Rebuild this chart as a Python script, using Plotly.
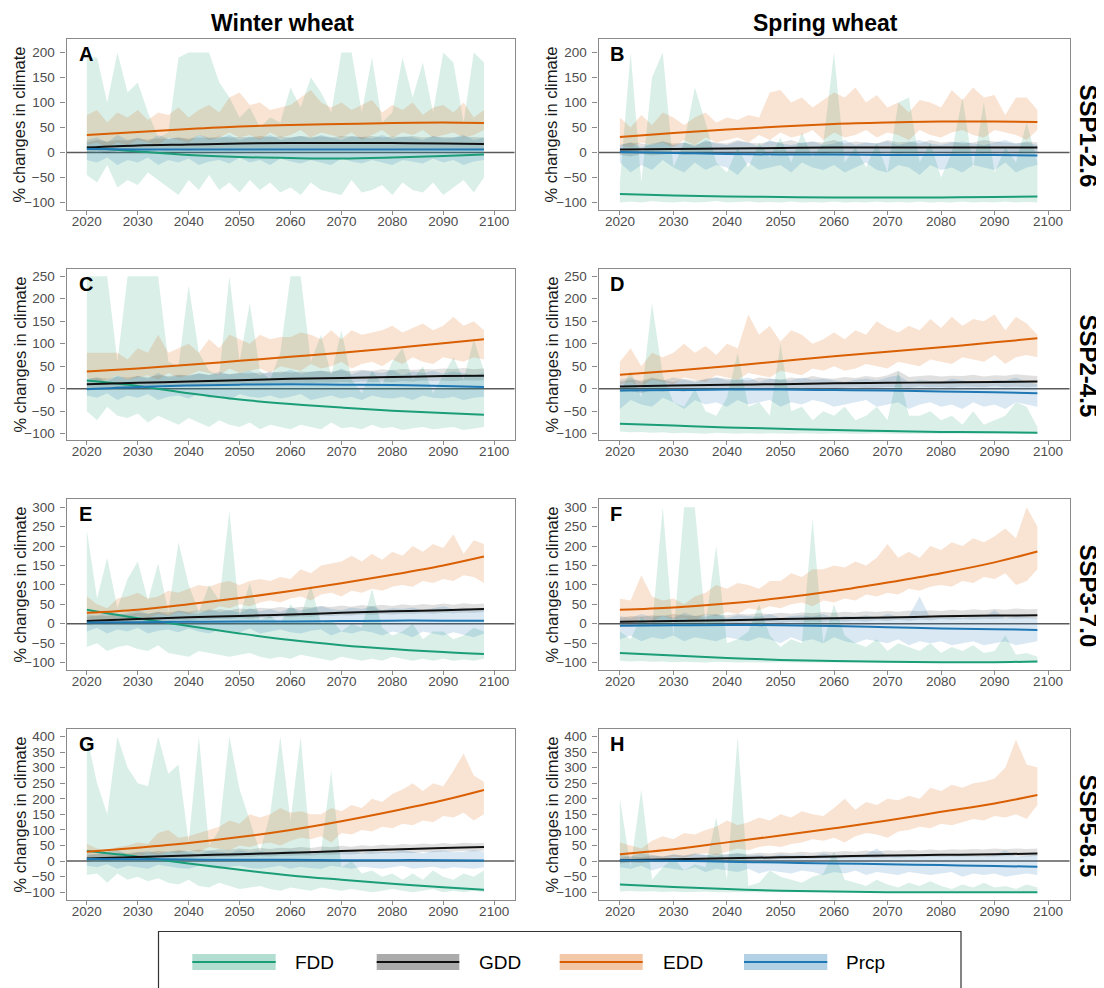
import plotly.graph_objects as go

# ---------------- data ----------------
YEARS = list(range(2020, 2099, 2))            # band sampling years
TREND_YEARS = [2020, 2030, 2040, 2050, 2060, 2070, 2080, 2090, 2098]
X_TICKS = [2020, 2030, 2040, 2050, 2060, 2070, 2080, 2090, 2100]
SERIES = ["FDD", "GDD", "EDD", "Prcp"]
PANEL_LETTERS = ["A", "B", "C", "D", "E", "F", "G", "H"]
COLUMN_TITLES = ["Winter wheat", "Spring wheat"]
ROW_LABELS = ["SSP1-2.6", "SSP2-4.5", "SSP3-7.0", "SSP5-8.5"]
Y_TICKS = [
    [-100, -50, 0, 50, 100, 150, 200],
    [-100, -50, 0, 50, 100, 150, 200, 250],
    [-100, -50, 0, 50, 100, 150, 200, 250, 300],
    [-100, -50, 0, 50, 100, 150, 200, 250, 300, 350, 400],
]

# ---- Panel A: winter wheat, SSP1-2.6
A_FDD_LO = [-45, -60, -25, -70, -55, -65, -40, -55, -70, -85, -55, -75, -45, -75, -60, -80, -55, -75, -60, -80, -70, -85, -60, -75, -80, -85, -55, -80, -75, -65, -85, -60, -75, -80, -60, -85, -70, -55, -80, -50]
A_FDD_HI = [190, 190, 100, 200, 120, 140, 80, 30, 40, 190, 200, 200, 200, 140, 110, 70, 90, 50, 70, 60, 130, 90, 150, 120, 80, 200, 200, 80, 190, 60, 80, 190, 110, 180, 80, 200, 180, 60, 200, 180]
A_GDD_LO = [0, 2, -2, 3, 2, 4, 3, 5, 4, 5, 3, 6, 5, 6, 4, 6, 5, 7, 5, 6, 5, 7, 6, 6, 5, 7, 6, 5, 7, 6, 5, 7, 6, 5, 6, 7, 5, 6, 5, 6]
A_GDD_HI = [20, 25, 22, 25, 24, 28, 26, 28, 27, 30, 28, 30, 29, 32, 30, 31, 30, 33, 31, 32, 30, 33, 31, 32, 30, 33, 32, 31, 33, 30, 32, 31, 33, 30, 32, 31, 30, 32, 31, 30]
A_EDD_LO = [15, 20, 10, 20, 15, 25, 20, 15, 30, 25, 20, 35, 25, 30, 40, 30, 35, 25, 40, 30, 35, 45, 30, 40, 35, 30, 40, 25, 35, 45, 30, 40, 35, 45, 30, 35, 40, 30, 35, 45]
A_EDD_HI = [75, 85, 60, 80, 70, 85, 65, 80, 75, 90, 70, 85, 95, 80, 110, 120, 95, 100, 85, 90, 95, 110, 125, 100, 90, 100, 85, 95, 105, 80, 95, 85, 100, 75, 90, 95, 80, 100, 70, 85]
A_PRCP_LO = [-15, -20, -10, -25, -15, -20, -10, -25, -15, -20, -12, -25, -18, -15, -22, -10, -20, -15, -25, -12, -18, -22, -15, -20, -25, -12, -18, -22, -15, -20, -25, -15, -18, -22, -12, -20, -15, -25, -18, -15]
A_PRCP_HI = [25, 30, 20, 35, 25, 30, 22, 35, 28, 30, 25, 35, 30, 28, 35, 25, 32, 28, 35, 25, 30, 33, 28, 35, 30, 25, 33, 30, 28, 35, 27, 32, 30, 25, 33, 28, 30, 35, 25, 30]
A_FDD_TREND = [10, 2, -5, -9, -11, -12, -10, -7, -4]
A_GDD_TREND = [10, 14, 16, 18, 19, 19, 19, 18, 17]
A_EDD_TREND = [35, 41, 47, 52, 55, 57, 59, 60, 59]
A_PRCP_TREND = [7, 6, 6, 6, 6, 6, 6, 6, 6]

# ---- Panel B: spring wheat, SSP1-2.6
B_FDD_LO = [-100, -98, -100, -97, -99, -100, -98, -100, -99, -97, -100, -99, -98, -100, -99, -100, -98, -100, -99, -100, -98, -100, -99, -100, -98, -100, -99, -100, -98, -100, -99, -100, -98, -100, -99, -100, -98, -100, -99, -100]
B_FDD_HI = [-60, 200, -60, 150, 200, -30, 20, 130, 60, -20, -40, 10, -30, 20, -10, 30, -20, 40, -10, 20, 200, -20, 10, -30, 20, -40, 100, 110, -20, 20, -50, 0, 110, -30, 100, -40, 10, -20, 60, -20]
B_GDD_LO = [-5, -8, -3, -6, -4, -2, -5, -3, -1, -4, -2, 0, -3, -1, -2, 0, -3, -1, 0, -2, 1, -1, -2, 0, -1, 1, -2, 0, -1, 1, 0, -2, 0, 1, -1, 0, 1, -1, 0, 1]
B_GDD_HI = [15, 20, 18, 15, 22, 18, 20, 15, 22, 20, 18, 25, 20, 18, 22, 20, 25, 18, 22, 20, 25, 18, 22, 20, 18, 25, 20, 22, 18, 25, 20, 22, 18, 20, 25, 22, 20, 18, 22, 20]
B_EDD_LO = [15, 10, 20, 15, 20, 10, 25, 15, 30, 20, 25, 30, 20, 35, 25, 40, 30, 35, 45, 25, 40, 30, 35, 45, 30, 40, 35, 25, 45, 35, 30, 40, 45, 35, 30, 45, 40, 35, 25, 45]
B_EDD_HI = [70, 50, 75, 55, 80, 70, 55, 70, 80, 60, 70, 65, 75, 70, 120, 125, 100, 110, 90, 105, 120, 110, 130, 100, 115, 90, 100, 80, 105, 100, 90, 125, 105, 130, 110, 115, 75, 110, 110, 85]
B_PRCP_LO = [-20, -40, -25, -35, -15, -30, -40, -20, -35, -25, -30, -45, -20, -35, -30, -25, -40, -20, -30, -35, -25, -40, -30, -20, -35, -40, -25, -30, -45, -25, -35, -30, -40, -25, -30, -35, -20, -40, -30, -25]
B_PRCP_HI = [15, 20, 10, 18, 22, 15, 20, 12, 25, 18, 15, 22, 20, 12, 25, 18, 15, 20, 22, 15, 18, 25, 15, 20, 18, 22, 15, 20, 25, 18, 15, 20, 22, 18, 15, 20, 25, 18, 20, 15]
B_FDD_TREND = [-83, -86, -88, -89, -90, -90, -90, -89, -88]
B_GDD_TREND = [6, 7, 8, 9, 10, 10, 10, 10, 10]
B_EDD_TREND = [31, 39, 46, 52, 57, 60, 62, 62, 61]
B_PRCP_TREND = [1, -1, -3, -4, -4, -5, -5, -5, -6]

# ---- Panel C: winter wheat, SSP2-4.5
C_FDD_LO = [-50, -70, -40, -60, -65, -55, -75, -60, -70, -80, -65, -75, -85, -70, -80, -85, -75, -90, -80, -85, -90, -80, -85, -90, -75, -88, -85, -90, -80, -88, -85, -92, -88, -85, -90, -88, -85, -92, -88, -85]
C_FDD_HI = [250, 250, 250, 60, 250, 250, 250, 250, 60, 50, 230, 80, 40, 30, 250, 60, 190, 40, 20, 80, 250, 250, 60, 120, 30, 130, 20, -10, 40, 10, 60, 90, 20, 50, -10, 30, 70, 20, 110, 40]
C_GDD_LO = [0, 2, 1, 4, 3, 5, 4, 6, 5, 7, 6, 8, 7, 9, 8, 10, 9, 11, 10, 12, 11, 13, 12, 14, 13, 15, 14, 16, 15, 16, 15, 17, 16, 18, 17, 18, 17, 19, 18, 19]
C_GDD_HI = [22, 25, 22, 27, 25, 28, 26, 30, 28, 31, 30, 33, 31, 34, 32, 35, 34, 36, 35, 38, 36, 38, 37, 40, 38, 41, 39, 42, 40, 43, 41, 44, 42, 44, 43, 45, 44, 46, 43, 45]
C_EDD_LO = [25, 15, 20, 30, 20, 25, 30, 20, 35, 25, 30, 40, 35, 30, 45, 35, 40, 45, 35, 50, 45, 40, 55, 45, 50, 60, 45, 55, 60, 50, 65, 55, 70, 60, 55, 70, 65, 60, 70, 65]
C_EDD_HI = [80, 80, 80, 80, 65, 90, 80, 120, 80, 90, 100, 80, 110, 90, 120, 110, 100, 120, 110, 115, 115, 125, 120, 110, 130, 110, 130, 120, 125, 130, 140, 125, 135, 145, 130, 140, 160, 140, 150, 130]
C_PRCP_LO = [-15, -20, -10, -25, -15, -20, -12, -25, -18, -15, -22, -10, -20, -15, -25, -12, -18, -20, -15, -22, -18, -12, -25, -20, -15, -22, -18, -25, -15, -20, -22, -18, -25, -15, -20, -22, -18, -25, -20, -18]
C_PRCP_HI = [20, 25, 15, 30, 20, 28, 22, 35, 25, 30, 28, 35, 30, 38, 32, 35, 40, 30, 38, 35, 42, 33, 38, 40, 35, 45, 32, 40, 38, 35, 42, 30, 38, 35, 40, 33, 38, 35, 30, 35]
C_FDD_TREND = [18, 6, -10, -24, -34, -42, -49, -54, -58]
C_GDD_TREND = [10, 13, 16, 19, 22, 24, 26, 28, 29]
C_EDD_TREND = [38, 45, 53, 62, 71, 80, 90, 101, 110]
C_PRCP_TREND = [-1, 4, 7, 9, 10, 9, 8, 6, 4]

# ---- Panel D: spring wheat, SSP2-4.5
D_FDD_LO = [-95, -97, -96, -98, -97, -99, -98, -99, -100, -98, -99, -100, -99, -100, -99, -100, -100, -99, -100, -100, -99, -100, -100, -100, -99, -100, -100, -100, -100, -100, -100, -100, -100, -100, -100, -100, -100, -100, -100, -100]
D_FDD_HI = [-10, 40, -20, 190, 30, -30, -40, 0, -50, -60, -20, 80, -40, -30, -60, 100, -50, -40, -70, -50, -60, -40, -70, -60, -40, -70, 40, -60, -60, -50, -70, -60, -80, -50, -80, -70, -60, -30, -40, -85]
D_GDD_LO = [-8, -5, -10, -3, -6, -4, -7, -2, -5, -3, -1, -4, -2, 0, -3, 1, -1, 2, 0, 1, -1, 2, 3, 1, 2, 4, 3, 2, 5, 3, 4, 2, 5, 4, 3, 6, 4, 5, 3, 5]
D_GDD_HI = [15, 20, 18, 25, 20, 15, 22, 18, 20, 25, 22, 20, 18, 25, 22, 20, 25, 22, 28, 24, 22, 26, 24, 28, 25, 30, 40, 26, 28, 30, 27, 29, 28, 31, 27, 30, 29, 32, 30, 28]
D_EDD_LO = [10, 15, 5, 20, 15, 10, 25, 20, 15, 30, 25, 20, 35, 30, 25, 40, 35, 30, 45, 40, 50, 40, 45, 55, 50, 45, 60, 55, 50, 65, 60, 55, 70, 65, 60, 75, 55, 70, 75, 70]
D_EDD_HI = [60, 90, 50, 80, 70, 80, 100, 80, 95, 75, 100, 90, 165, 120, 140, 105, 130, 120, 100, 110, 125, 110, 130, 120, 150, 135, 125, 140, 130, 155, 135, 160, 140, 155, 150, 165, 130, 160, 145, 120]
D_PRCP_LO = [-45, -25, -35, -40, -20, -30, -45, -25, -35, -30, -40, -25, -35, -30, -25, -40, -30, -35, -25, -30, -40, -35, -30, -25, -40, -35, -30, -45, -35, -30, -40, -35, -45, -30, -40, -35, -45, -30, -35, -40]
D_PRCP_HI = [20, 25, 15, 22, 18, 25, 20, 15, 22, 25, 18, 20, 25, 15, 22, 20, 18, 25, 20, 22, 18, 15, 20, 22, 18, 25, 30, 15, 20, 18, 15, 22, 18, 15, 12, 20, 18, 25, 15, 10]
D_FDD_TREND = [-78, -82, -86, -89, -92, -94, -96, -97, -98]
D_GDD_TREND = [5, 7, 9, 10, 12, 13, 14, 15, 16]
D_EDD_TREND = [31, 40, 50, 61, 72, 82, 92, 103, 112]
D_PRCP_TREND = [-4, -3, -2, -2, -3, -4, -6, -8, -10]

# ---- Panel E: winter wheat, SSP3-7.0
E_FDD_LO = [-60, -50, -70, -60, -55, -65, -70, -55, -75, -80, -85, -70, -75, -80, -85, -80, -75, -85, -90, -85, -90, -80, -85, -90, -95, -85, -90, -95, -90, -95, -85, -90, -95, -90, -95, -90, -95, -92, -95, -90]
E_FDD_HI = [240, 65, 170, 40, 115, 160, 60, 155, 30, 210, 100, 30, 100, 60, 290, 20, 105, 10, 20, 0, 50, 20, 100, 0, 10, -20, 0, -10, 90, -10, -30, -20, 0, -40, -20, -20, -40, -30, -10, -20]
E_GDD_LO = [-3, 0, -1, 3, 2, 5, 4, 7, 6, 9, 8, 11, 10, 13, 12, 14, 13, 16, 15, 18, 17, 19, 18, 21, 20, 22, 21, 24, 23, 25, 24, 26, 25, 27, 26, 28, 27, 29, 28, 30]
E_GDD_HI = [18, 22, 20, 25, 24, 28, 26, 31, 29, 33, 31, 35, 33, 37, 35, 39, 37, 41, 39, 43, 40, 44, 42, 46, 43, 47, 44, 48, 45, 49, 46, 50, 47, 51, 48, 52, 49, 53, 50, 52]
E_EDD_LO = [5, 10, 0, 15, 10, 20, 15, 25, 20, 30, 25, 35, 30, 45, 40, 50, 45, 55, 60, 55, 65, 70, 60, 75, 80, 70, 85, 80, 90, 85, 95, 100, 95, 110, 105, 115, 110, 125, 120, 105]
E_EDD_HI = [70, 50, 40, 65, 70, 80, 65, 70, 85, 80, 90, 100, 95, 105, 110, 100, 110, 115, 110, 120, 115, 140, 130, 150, 155, 160, 175, 160, 180, 165, 185, 175, 200, 185, 205, 195, 230, 180, 215, 205]
E_PRCP_LO = [-20, -10, -25, -15, -20, -10, -25, -18, -15, -22, -12, -20, -25, -15, -18, -22, -12, -25, -20, -15, -22, -25, -18, -15, -30, -20, -25, -18, -22, -30, -20, -25, -35, -20, -25, -30, -22, -28, -35, -25]
E_PRCP_HI = [25, 20, 30, 22, 28, 35, 25, 30, 22, 35, 28, 25, 38, 30, 35, 28, 40, 32, 38, 30, 42, 35, 40, 45, 38, 35, 42, 38, 45, 35, 40, 38, 42, 35, 40, 45, 38, 42, 35, 38]
E_FDD_TREND = [36, 14, -6, -25, -42, -55, -65, -73, -78]
E_GDD_TREND = [7, 12, 17, 20, 24, 28, 32, 35, 38]
E_EDD_TREND = [28, 36, 50, 66, 84, 104, 126, 150, 173]
E_PRCP_TREND = [3, 4, 5, 6, 6, 7, 8, 8, 8]

# ---- Panel F: spring wheat, SSP3-7.0
F_FDD_LO = [-95, -97, -96, -98, -97, -99, -98, -99, -100, -98, -99, -100, -99, -100, -100, -99, -100, -100, -100, -100, -100, -100, -100, -100, -100, -100, -100, -100, -100, -100, -100, -100, -100, -100, -100, -100, -100, -100, -100, -100]
F_FDD_HI = [-20, -40, 20, -10, 300, -30, 300, 300, 0, 200, -50, -40, -20, 50, -30, -60, -40, -50, 270, -50, 50, -30, -50, -60, -40, -70, -50, -60, -70, -50, -75, -60, -70, -55, -75, -70, -30, -80, -75, -85]
F_GDD_LO = [-5, -8, -3, -6, -2, -4, 0, -3, 1, -1, 2, 0, 3, 1, 4, 2, 5, 3, 6, 4, 7, 5, 8, 6, 9, 7, 10, 8, 11, 9, 12, 10, 12, 11, 13, 12, 14, 13, 14, 13]
F_GDD_HI = [15, 20, 18, 22, 20, 25, 22, 20, 25, 23, 22, 26, 24, 27, 25, 28, 26, 29, 27, 30, 28, 31, 29, 32, 30, 33, 31, 34, 32, 35, 33, 36, 34, 37, 35, 38, 36, 39, 37, 38]
F_EDD_LO = [10, 0, 15, 5, 20, 10, 15, 5, 25, 20, 30, 25, 40, 35, 45, 40, 50, 55, 45, 60, 55, 65, 60, 75, 70, 80, 75, 90, 85, 95, 100, 95, 110, 105, 120, 115, 130, 100, 110, 140]
F_EDD_HI = [65, 60, 125, 70, 60, 65, 50, 70, 80, 100, 90, 105, 100, 90, 110, 110, 130, 120, 140, 140, 150, 145, 160, 150, 170, 205, 170, 185, 170, 200, 190, 210, 200, 220, 210, 225, 245, 220, 300, 250]
F_PRCP_LO = [-40, -30, -45, -35, -40, -30, -45, -35, -40, -45, -35, -40, -45, -35, -40, -50, -35, -45, -40, -50, -35, -45, -50, -40, -45, -50, -40, -55, -45, -50, -45, -55, -50, -45, -55, -50, -45, -55, -50, -45]
F_PRCP_HI = [20, 15, 25, 18, 22, 15, 28, 20, 18, 25, 15, 22, 20, 18, 25, 15, 20, 22, 18, 25, 15, 20, 18, 22, 15, 25, 18, 20, 70, 15, 18, 22, 15, 20, 18, 35, 15, 20, 18, 15]
F_FDD_TREND = [-75, -82, -88, -93, -96, -98, -99, -99, -97]
F_GDD_TREND = [5, 7, 9, 12, 14, 16, 19, 21, 22]
F_EDD_TREND = [36, 42, 52, 66, 84, 106, 130, 158, 186]
F_PRCP_TREND = [-5, -4, -3, -4, -6, -9, -12, -14, -16]

# ---- Panel G: winter wheat, SSP5-8.5
G_FDD_LO = [-45, -40, -70, -40, -60, -50, -65, -55, -70, -75, -60, -80, -85, -70, -80, -90, -85, -80, -90, -95, -85, -90, -95, -85, -90, -95, -90, -95, -100, -95, -90, -95, -100, -95, -90, -100, -95, -100, -95, -100]
G_FDD_HI = [400, 250, 150, 400, 300, 250, 240, 400, 280, 310, 60, 400, 50, 100, 400, 230, 130, 30, 150, 400, 130, 400, 20, 30, 290, -20, 0, -40, -30, -50, -40, -60, -40, -60, -30, -50, -60, -40, -50, -30]
G_GDD_LO = [-2, 2, 0, 4, 3, 6, 5, 8, 7, 10, 9, 12, 11, 13, 12, 15, 14, 16, 15, 18, 17, 19, 18, 21, 20, 22, 21, 24, 23, 26, 25, 27, 26, 29, 28, 31, 30, 32, 31, 33]
G_GDD_HI = [18, 24, 21, 27, 25, 30, 27, 33, 30, 34, 32, 37, 34, 38, 36, 40, 37, 42, 39, 43, 41, 45, 42, 47, 44, 49, 46, 51, 48, 53, 50, 55, 52, 56, 54, 58, 55, 59, 57, 58]
G_EDD_LO = [10, 15, 5, 10, 20, 15, 25, 20, 30, 25, 35, 30, 45, 40, 35, 50, 45, 55, 60, 50, 65, 75, 70, 80, 60, 90, 85, 100, 95, 110, 105, 120, 115, 130, 125, 145, 140, 155, 130, 150]
G_EDD_HI = [55, 40, 30, 45, 50, 60, 55, 90, 100, 75, 80, 90, 100, 110, 130, 120, 150, 140, 150, 170, 155, 160, 150, 150, 170, 160, 180, 170, 200, 190, 215, 230, 250, 225, 250, 240, 290, 345, 275, 255]
G_PRCP_LO = [-15, -20, -10, -25, -15, -20, -25, -12, -18, -22, -25, -15, -20, -25, -18, -15, -22, -25, -20, -15, -25, -18, -22, -25, -15, -20, -25, -18, -22, -25, -20, -15, -25, -22, -18, -25, -20, -22, -25, -20]
G_PRCP_HI = [25, 20, 30, 35, 22, 28, 32, 25, 30, 35, 28, 22, 33, 30, 25, 35, 28, 32, 25, 30, 35, 28, 32, 25, 30, 28, 35, 25, 32, 30, 28, 35, 30, 25, 32, 35, 28, 30, 35, 30]
G_FDD_TREND = [32, 14, -8, -28, -46, -60, -73, -84, -92]
G_GDD_TREND = [8, 13, 18, 22, 27, 32, 37, 42, 45]
G_EDD_TREND = [30, 43, 58, 77, 100, 128, 160, 195, 228]
G_PRCP_TREND = [7, 6, 5, 4, 4, 3, 3, 3, 2]

# ---- Panel H: spring wheat, SSP5-8.5
H_FDD_LO = [-98, -96, -98, -97, -99, -98, -100, -99, -98, -100, -99, -100, -100, -99, -100, -100, -100, -100, -100, -100, -100, -100, -100, -100, -100, -100, -100, -100, -100, -100, -100, -100, -100, -100, -100, -100, -100, -100, -100, -100]
H_FDD_HI = [200, -20, 230, -60, -20, 10, -30, -10, -20, 140, -60, 400, -80, -70, -30, -50, -60, -70, -50, -40, 30, -60, -70, -80, -60, -75, -85, -70, -80, -65, -80, -90, -75, -85, -70, -85, -80, -90, -75, -85]
H_GDD_LO = [-8, -5, -6, -3, -4, -1, -2, 1, 0, 2, 1, 4, 3, 5, 4, 7, 6, 8, 7, 9, 8, 10, 9, 11, 10, 12, 11, 13, 12, 14, 13, 14, 13, 15, 14, 15, 14, 16, 15, 16]
H_GDD_HI = [10, 15, 12, 18, 15, 20, 17, 22, 19, 24, 21, 25, 23, 27, 24, 28, 26, 30, 27, 31, 29, 32, 30, 34, 31, 35, 33, 36, 34, 37, 35, 38, 36, 39, 37, 40, 38, 40, 39, 40]
H_EDD_LO = [0, 5, -5, 10, 5, 15, 10, 20, 25, 20, 30, 40, 35, 45, 50, 45, 55, 60, 70, 65, 75, 60, 80, 90, 85, 75, 95, 100, 110, 105, 120, 115, 125, 135, 130, 145, 140, 150, 135, 180]
H_EDD_HI = [60, 50, 40, 65, 80, 70, 90, 85, 100, 110, 130, 115, 125, 140, 130, 150, 140, 160, 150, 145, 170, 200, 165, 190, 180, 200, 195, 210, 200, 235, 225, 245, 235, 250, 255, 265, 300, 390, 310, 300]
H_PRCP_LO = [-20, -25, -15, -30, -20, -25, -30, -20, -35, -25, -30, -35, -25, -40, -30, -35, -40, -30, -35, -45, -35, -40, -30, -45, -35, -40, -45, -35, -40, -45, -40, -35, -50, -40, -45, -40, -50, -45, -40, -45]
H_PRCP_HI = [20, 15, 25, 20, 15, 22, 18, 25, 20, 15, 22, 25, 18, 20, 15, 22, 18, 20, 15, 25, 18, 20, 15, 22, 40, 15, 20, 18, 15, 22, 18, 15, 20, 18, 15, 20, 35, 15, 18, 20]
H_FDD_TREND = [-75, -83, -90, -95, -98, -100, -100, -100, -100]
H_GDD_TREND = [3, 6, 9, 12, 15, 18, 20, 22, 24]
H_EDD_TREND = [22, 38, 60, 82, 105, 130, 158, 185, 212]
H_PRCP_TREND = [3, 1, -2, -5, -8, -10, -13, -16, -18]

PANELS = [
    {"FDD": (A_FDD_LO, A_FDD_HI, A_FDD_TREND), "GDD": (A_GDD_LO, A_GDD_HI, A_GDD_TREND),
     "EDD": (A_EDD_LO, A_EDD_HI, A_EDD_TREND), "Prcp": (A_PRCP_LO, A_PRCP_HI, A_PRCP_TREND)},
    {"FDD": (B_FDD_LO, B_FDD_HI, B_FDD_TREND), "GDD": (B_GDD_LO, B_GDD_HI, B_GDD_TREND),
     "EDD": (B_EDD_LO, B_EDD_HI, B_EDD_TREND), "Prcp": (B_PRCP_LO, B_PRCP_HI, B_PRCP_TREND)},
    {"FDD": (C_FDD_LO, C_FDD_HI, C_FDD_TREND), "GDD": (C_GDD_LO, C_GDD_HI, C_GDD_TREND),
     "EDD": (C_EDD_LO, C_EDD_HI, C_EDD_TREND), "Prcp": (C_PRCP_LO, C_PRCP_HI, C_PRCP_TREND)},
    {"FDD": (D_FDD_LO, D_FDD_HI, D_FDD_TREND), "GDD": (D_GDD_LO, D_GDD_HI, D_GDD_TREND),
     "EDD": (D_EDD_LO, D_EDD_HI, D_EDD_TREND), "Prcp": (D_PRCP_LO, D_PRCP_HI, D_PRCP_TREND)},
    {"FDD": (E_FDD_LO, E_FDD_HI, E_FDD_TREND), "GDD": (E_GDD_LO, E_GDD_HI, E_GDD_TREND),
     "EDD": (E_EDD_LO, E_EDD_HI, E_EDD_TREND), "Prcp": (E_PRCP_LO, E_PRCP_HI, E_PRCP_TREND)},
    {"FDD": (F_FDD_LO, F_FDD_HI, F_FDD_TREND), "GDD": (F_GDD_LO, F_GDD_HI, F_GDD_TREND),
     "EDD": (F_EDD_LO, F_EDD_HI, F_EDD_TREND), "Prcp": (F_PRCP_LO, F_PRCP_HI, F_PRCP_TREND)},
    {"FDD": (G_FDD_LO, G_FDD_HI, G_FDD_TREND), "GDD": (G_GDD_LO, G_GDD_HI, G_GDD_TREND),
     "EDD": (G_EDD_LO, G_EDD_HI, G_EDD_TREND), "Prcp": (G_PRCP_LO, G_PRCP_HI, G_PRCP_TREND)},
    {"FDD": (H_FDD_LO, H_FDD_HI, H_FDD_TREND), "GDD": (H_GDD_LO, H_GDD_HI, H_GDD_TREND),
     "EDD": (H_EDD_LO, H_EDD_HI, H_EDD_TREND), "Prcp": (H_PRCP_LO, H_PRCP_HI, H_PRCP_TREND)},
]

# ---------------- styling / layout ----------------
W, H = 1104, 988
FONT = "Liberation Sans, Arial, Helvetica, sans-serif"
LINE_COLORS = {"FDD": "#1B9E77", "GDD": "#111111", "EDD": "#D95F02", "Prcp": "#1F78B4"}
RGB = {"FDD": (27, 158, 119), "GDD": (0, 0, 0), "EDD": (217, 95, 2), "Prcp": (31, 120, 180)}
BAND_ALPHA = {"FDD": 0.17, "GDD": 0.12, "EDD": 0.17, "Prcp": 0.17}
KEY_ALPHA = {"FDD": 0.34, "GDD": 0.33, "EDD": 0.34, "Prcp": 0.34}
COL_X = [(58.5, 506.5), (590.5, 1061.5)]
ROW_TOP = [31, 261, 491, 721]
PANEL_H = 171
Y_RANGES = [(-115, 227), (-114, 266), (-119, 321), (-125, 424)]
AXIS_GREY = "#8a8a8a"
TICK_TEXT = "#4d4d4d"


def px(x):
    return x / W


def py(y):
    return 1 - y / H


def rgba(name, a):
    r, g, b = RGB[name]
    return f"rgba({r},{g},{b},{a})"


fig = go.Figure()
layout = {}
annotations = []
shapes = []

for p, panel in enumerate(PANELS):
    row, col = divmod(p, 2)
    idx = "" if p == 0 else str(p + 1)
    xa, ya = "x" + idx, "y" + idx
    x0, x1 = COL_X[col]
    top = ROW_TOP[row]
    bot = top + PANEL_H
    layout["xaxis" + idx] = dict(
        domain=[px(x0), px(x1)], anchor=ya, range=[2016, 2104],
        tickvals=X_TICKS, ticks="outside", ticklen=4, tickwidth=1, tickcolor=AXIS_GREY,
        showline=True, mirror=True, linecolor=AXIS_GREY, linewidth=1.2,
        showgrid=False, zeroline=False, ticklabelstandoff=-5,
        tickfont=dict(family=FONT, size=13.5, color=TICK_TEXT),
    )
    layout["yaxis" + idx] = dict(
        domain=[py(bot), py(top)], anchor=xa, range=list(Y_RANGES[row]),
        tickvals=Y_TICKS[row], ticks="outside", ticklen=5, tickwidth=1, tickcolor=AXIS_GREY,
        showline=True, mirror=True, linecolor=AXIS_GREY, linewidth=1.2,
        showgrid=False, zeroline=False, ticklabelstandoff=3,
        tickfont=dict(family=FONT, size=13.5, color=TICK_TEXT),
    )
    # zero reference line
    shapes.append(dict(type="line", xref=xa + " domain", yref=ya, x0=0, x1=1, y0=0, y1=0,
                       line=dict(color="#5a5a5a", width=1.5), layer="below"))
    # ribbons
    for s in SERIES:
        lo, hi, _ = panel[s]
        fig.add_trace(go.Scatter(x=YEARS, y=lo, xaxis=xa, yaxis=ya, mode="lines",
                                 line=dict(width=0, color=rgba(s, 0)), showlegend=False,
                                 hoverinfo="skip"))
        fig.add_trace(go.Scatter(x=YEARS, y=hi, xaxis=xa, yaxis=ya, mode="lines",
                                 line=dict(width=0, color=rgba(s, 0)), fill="tonexty",
                                 fillcolor=rgba(s, BAND_ALPHA[s]), showlegend=False,
                                 hoverinfo="skip"))
    # trend lines
    for s in SERIES:
        _, _, tr = panel[s]
        fig.add_trace(go.Scatter(x=TREND_YEARS, y=tr, xaxis=xa, yaxis=ya, mode="lines",
                                 line=dict(width=2, color=LINE_COLORS[s], shape="spline"),
                                 name=s, showlegend=False))
    # panel letter
    annotations.append(dict(text="<b>" + PANEL_LETTERS[p] + "</b>", xref="paper", yref="paper",
                            x=px(x0 + 10), y=py(top + 15), xanchor="left", yanchor="middle",
                            showarrow=False, font=dict(family=FONT, size=20, color="black")))
    # y-axis title
    annotations.append(dict(text="% changes in climate", xref="paper", yref="paper",
                            x=px(x0 - 47.5), y=py(top + PANEL_H / 2), textangle=-90,
                            xanchor="center", yanchor="middle", showarrow=False,
                            font=dict(family=FONT, size=16.5, color="#1a1a1a")))

# column titles
for c, (title, cx) in enumerate(zip(COLUMN_TITLES, [274, 817.5])):
    annotations.append(dict(text="<b>" + title + "</b>", xref="paper", yref="paper",
                            x=px(cx), y=py(15.5), xanchor="center", yanchor="middle",
                            showarrow=False, font=dict(family=FONT, size=23, color="black")))
# row (scenario) strip labels
for r, lab in enumerate(ROW_LABELS):
    annotations.append(dict(text="<b>" + lab + "</b>", xref="paper", yref="paper",
                            x=px(1080), y=py(ROW_TOP[r] + PANEL_H / 2 + 11), textangle=90,
                            xanchor="center", yanchor="middle", showarrow=False,
                            font=dict(family=FONT, size=24, color="black")))

# legend (drawn as a boxed key row at the bottom)
shapes.append(dict(type="rect", xref="paper", yref="paper", x0=px(150.5), x1=px(953),
                   y0=py(1000), y1=py(923.5), line=dict(color="#333333", width=1.2),
                   fillcolor="rgba(0,0,0,0)"))
KEY_X = [(184.3, 267.7), (368.7, 451.3), (551.7, 634.7), (736.0, 819.3)]
TEXT_X = [285.3, 468.7, 653.0, 836.3]
KEY_Y = 954
for s, (k0, k1), tx in zip(SERIES, KEY_X, TEXT_X):
    shapes.append(dict(type="rect", xref="paper", yref="paper", x0=px(k0), x1=px(k1),
                       y0=py(KEY_Y + 8), y1=py(KEY_Y - 8), line=dict(width=0),
                       fillcolor=rgba(s, KEY_ALPHA[s])))
    shapes.append(dict(type="line", xref="paper", yref="paper", x0=px(k0), x1=px(k1),
                       y0=py(KEY_Y), y1=py(KEY_Y), line=dict(color=LINE_COLORS[s], width=2)))
    annotations.append(dict(text=s, xref="paper", yref="paper", x=px(tx), y=py(KEY_Y),
                            xanchor="left", yanchor="middle", showarrow=False,
                            font=dict(family=FONT, size=19, color="black")))

fig.update_layout(
    width=W, height=H, margin=dict(l=0, r=0, t=0, b=0),
    paper_bgcolor="white", plot_bgcolor="white",
    showlegend=False, annotations=annotations, shapes=shapes,
    font=dict(family=FONT), **layout,
)

fig.write_html("out.html")
